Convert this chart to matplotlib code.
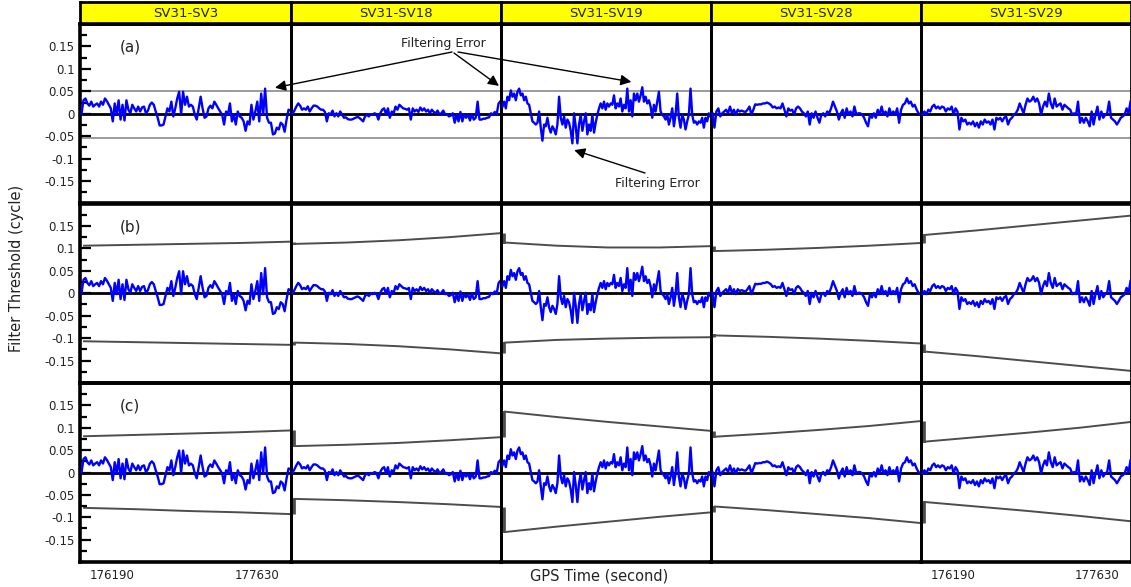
import numpy as np
import matplotlib
matplotlib.use("Agg")
import matplotlib.pyplot as plt

# ---------------- data ----------------
pairs = ["SV31-SV3", "SV31-SV18", "SV31-SV19", "SV31-SV28", "SV31-SV29"]
panel_labels = ["(a)", "(b)", "(c)"]
t_range = (175870, 177965)
xtick_vals = [176190, 177630]
ytick_major = [-0.15, -0.1, -0.05, 0, 0.05, 0.1, 0.15]
ytick_labels = ["-0.15", "-0.1", "-0.05", "0", "0.05", "0.1", "0.15"]
ytick_minor = [-0.175, -0.125, -0.075, -0.025, 0.025, 0.075, 0.125, 0.175]

err_sv3 = [0.0, 0.03, 0.034, 0.023, 0.018, 0.027, 0.016, 0.02, 0.023, 0.016, 0.027, 0.02,
           0.034, 0.028, 0.02, 0.012, -0.017, 0.023, -0.002, 0.03, -0.013, 0.02, -0.015,
           0.03, 0.009, 0.001, 0.02, 0.012, 0.005, 0.016, 0.005, 0.014, 0.016, 0.001, 0.007,
           0.02, 0.025, 0.02, 0.005, -0.009, -0.026, -0.026, -0.024, -0.006, 0.012, 0.005,
           0.027, -0.006, 0.012, 0.034, 0.049, -0.002, 0.049, 0.02, 0.038, 0.016, 0.02,
           0.016, -0.002, -0.013, 0.012, 0.038, 0.012, -0.009, -0.006, 0.012, 0.018, 0.012,
           0.027, 0.02, 0.012, 0.005, -0.002, -0.024, 0.005, -0.002, 0.023, -0.017, -0.002,
           -0.024, 0.005, -0.006, -0.009, -0.017, -0.038, -0.017, -0.024, 0.02, -0.013,
           0.005, 0.027, -0.017, 0.045, -0.002, 0.056, -0.009, -0.02, -0.02, -0.046, -0.044,
           -0.031, -0.035, -0.02, -0.024, -0.04, -0.013, 0.009, 0.007]
err_sv18 = [0.0, 0.007, 0.016, 0.023, 0.018, 0.009, 0.012, 0.009, 0.016, 0.005, 0.012,
            0.018, 0.018, 0.016, 0.012, 0.009, 0.009, 0.004, -0.017, 0.001, -0.002, 0.007,
            -0.006, 0.001, -0.006, 0.005, -0.002, -0.009, -0.008, -0.012, -0.013, -0.013,
            -0.011, -0.009, -0.007, -0.009, -0.013, -0.017, -0.006, -0.002, -0.006, -0.001,
            -0.002, 0.001, -0.001, -0.013, 0.001, 0.009, 0.012, -0.001, 0.012, -0.009, 0.005,
            0.001, 0.016, 0.009, 0.02, 0.016, 0.012, 0.011, 0.009, 0.012, -0.013, 0.012,
            0.005, 0.009, 0.004, 0.014, 0.007, 0.012, 0.005, 0.009, 0.001, 0.009, 0.004,
            0.001, 0.007, -0.001, 0.001, 0.007, -0.002, -0.001, -0.006, -0.004, 0.001, -0.02,
            -0.002, -0.017, 0.004, -0.017, -0.002, -0.009, -0.002, -0.015, -0.001, -0.013,
            -0.009, 0.027, -0.013, -0.013, -0.011, -0.011, -0.009, -0.008, 0.001, -0.002,
            0.004, -0.001, 0.023, 0.028]
err_sv19 = [0.016, 0.027, 0.012, 0.038, 0.03, 0.052, 0.038, 0.045, 0.03, 0.049, 0.056,
            0.041, 0.045, 0.03, 0.038, 0.023, 0.02, 0.001, -0.017, -0.02, -0.024, -0.02,
            0.005, -0.031, -0.06, -0.024, -0.028, -0.009, -0.031, -0.042, -0.028, -0.035,
            -0.046, -0.024, 0.038, -0.009, -0.024, -0.006, -0.031, -0.013, -0.02, -0.038,
            -0.066, 0.001, -0.028, -0.066, -0.024, -0.002, -0.038, -0.017, 0.001, -0.046,
            -0.024, -0.038, -0.002, -0.042, -0.02, -0.002, 0.012, 0.023, 0.012, 0.027, 0.009,
            0.023, 0.016, 0.023, 0.02, 0.041, 0.012, 0.023, 0.016, 0.034, 0.005, 0.02, 0.012,
            0.056, 0.005, 0.03, -0.006, 0.045, 0.03, 0.045, 0.027, 0.041, 0.059, 0.027, 0.038,
            0.023, 0.03, 0.016, -0.009, 0.02, 0.005, 0.027, 0.049, 0.005, -0.002, -0.006,
            -0.013, -0.002, -0.024, -0.009, 0.012, -0.028, -0.002, 0.045, -0.009, -0.031,
            -0.002, -0.013, -0.035, -0.017, -0.002, 0.056, -0.002, -0.02, -0.017, -0.024,
            -0.017, -0.02, -0.009, -0.031, -0.009, -0.017, 0.001, -0.006]
err_sv28 = [0.001, -0.031, 0.005, 0.012, -0.006, 0.001, 0.005, 0.009, 0.001, 0.016, 0.001,
            0.009, -0.002, 0.009, 0.005, 0.007, 0.005, 0.004, 0.009, 0.016, -0.002, 0.009,
            0.021, 0.02, 0.021, 0.021, 0.023, 0.023, 0.025, 0.023, 0.02, 0.014, 0.016, 0.012,
            0.014, 0.012, 0.023, 0.009, -0.006, 0.012, 0.007, 0.009, -0.002, 0.012, 0.016,
            0.012, 0.005, 0.001, -0.006, 0.005, -0.024, 0.001, -0.009, 0.005, -0.009, -0.02,
            -0.002, 0.001, -0.006, 0.005, 0.001, 0.012, 0.027, 0.016, 0.005, -0.013, 0.001,
            0.009, -0.009, 0.012, -0.002, 0.005, -0.006, 0.016, -0.002, 0.001, 0.001, -0.002,
            -0.009, -0.02, -0.028, -0.002, -0.009, 0.001, -0.009, 0.009, -0.002, 0.016,
            -0.002, 0.005, -0.006, 0.012, -0.002, 0.005, -0.002, 0.012, -0.02, 0.009, 0.02,
            0.023, 0.034, 0.023, 0.027, 0.016, 0.02, 0.009, 0.001, -0.002]
err_sv29 = [-0.002, 0.005, -0.002, 0.009, 0.005, 0.016, 0.02, 0.012, 0.016, 0.011, 0.016,
            0.014, 0.005, 0.012, 0.009, 0.016, -0.002, 0.012, 0.005, -0.035, -0.009, -0.017,
            -0.013, -0.024, -0.02, -0.024, -0.017, -0.028, -0.02, -0.031, -0.017, -0.024,
            -0.013, -0.02, -0.017, -0.024, -0.013, -0.035, -0.009, -0.013, -0.009, -0.017,
            -0.009, -0.006, -0.024, -0.013, -0.009, -0.002, 0.001, 0.009, 0.023, 0.012, 0.001,
            0.02, 0.034, 0.027, 0.03, 0.038, 0.027, 0.034, 0.023, -0.002, 0.016, 0.027, 0.016,
            0.045, 0.023, 0.012, 0.034, 0.016, 0.02, 0.023, 0.009, 0.02, 0.016, 0.012, 0.009,
            -0.002, 0.001, -0.002, 0.027, -0.02, -0.009, -0.02, -0.009, -0.017, -0.028, 0.005,
            -0.024, -0.002, 0.016, -0.013, 0.005, -0.009, -0.002, 0.001, 0.027, -0.009, -0.013,
            -0.017, -0.024, -0.017, -0.009, -0.006, -0.002, 0.012, 0.001, 0.027]
errors = [err_sv3, err_sv18, err_sv19, err_sv28, err_sv29]

# row (a): fixed thresholds
a_upper = 0.05
a_lower = -0.055
# rows (b), (c): threshold curves per pair (values at 0, 1/4, 1/2, 3/4, 1 of the span)
b_upper = [[0.106, 0.108, 0.110, 0.112, 0.115],
           [0.110, 0.113, 0.118, 0.125, 0.134],
           [0.113, 0.106, 0.102, 0.102, 0.105],
           [0.094, 0.097, 0.101, 0.106, 0.112],
           [0.130, 0.140, 0.151, 0.162, 0.173]]
b_lower = [[-0.107, -0.109, -0.111, -0.113, -0.115],
           [-0.110, -0.113, -0.118, -0.125, -0.134],
           [-0.110, -0.104, -0.101, -0.099, -0.098],
           [-0.094, -0.097, -0.101, -0.106, -0.112],
           [-0.130, -0.140, -0.151, -0.162, -0.173]]
c_upper = [[0.081, 0.084, 0.087, 0.090, 0.094],
           [0.059, 0.062, 0.066, 0.072, 0.079],
           [0.136, 0.124, 0.113, 0.103, 0.093],
           [0.080, 0.087, 0.095, 0.104, 0.115],
           [0.069, 0.079, 0.089, 0.100, 0.113]]
c_lower = [[-0.079, -0.082, -0.086, -0.089, -0.093],
           [-0.059, -0.062, -0.066, -0.071, -0.077],
           [-0.133, -0.121, -0.110, -0.099, -0.089],
           [-0.076, -0.084, -0.093, -0.102, -0.113],
           [-0.066, -0.076, -0.086, -0.097, -0.109]]

# ---------------- layout ----------------
W, H = 1131, 587
fig = plt.figure(figsize=(W / 100, H / 100), dpi=100)
plt.rcParams["font.family"] = ["DejaVu Sans"]

col_edges = [80, 291, 501, 711, 921, 1131]
row_edges = [24, 203.5, 383, 562]
head_top = 2


def fx(px):
    return px / W


def fy(py):
    return 1 - py / H


BLUE = "#0000ff"
THR = "#4d4d4d"
TXT = "#222222"

# headers
for c, name in enumerate(pairs):
    hx = fig.add_axes([fx(col_edges[c]), fy(row_edges[0]),
                       (col_edges[c + 1] - col_edges[c]) / W,
                       (row_edges[0] - head_top) / H])
    hx.set_facecolor("#ffff00")
    hx.set_xticks([])
    hx.set_yticks([])
    for s in hx.spines.values():
        s.set_linewidth(2.0)
        s.set_color("black")
    hx.text(0.5, 0.47, name, ha="center", va="center", fontsize=9.5, color=TXT,
            transform=hx.transAxes)

axes = [[None] * 5 for _ in range(3)]
for r in range(3):
    for c in range(5):
        ax = fig.add_axes([fx(col_edges[c]), fy(row_edges[r + 1]),
                           (col_edges[c + 1] - col_edges[c]) / W,
                           (row_edges[r + 1] - row_edges[r]) / H])
        ax.set_facecolor("none")
        axes[r][c] = ax
        ax.set_xlim(*t_range)
        ax.set_ylim(-0.2, 0.2)

        y = np.array(errors[c])
        t = np.linspace(t_range[0] + 15, t_range[1] - 5, len(y))

        if r == 0:
            ax.axhline(a_upper, color="#808080", lw=1.1, zorder=1)
            ax.axhline(a_lower, color="#808080", lw=1.1, zorder=1)
        else:
            up = b_upper if r == 1 else c_upper
            lo = b_lower if r == 1 else c_lower
            tt = np.linspace(t_range[0] + 40, t_range[1], len(up[c]))
            ax.plot(tt, up[c], color=THR, lw=1.4, zorder=1)
            ax.plot(tt, lo[c], color=THR, lw=1.4, zorder=1)
            if c > 0:
                for prev, cur in ((up[c - 1][-1], up[c][0]), (lo[c - 1][-1], lo[c][0])):
                    ax.plot([t_range[0] + 22, t_range[0] + 22], [prev, cur],
                            color=THR, lw=3.4, zorder=1, solid_capstyle="butt")
                    ax.plot([t_range[0] + 20, t_range[0] + 40], [cur, cur],
                            color=THR, lw=1.4, zorder=1)

        ax.axhline(0, color="black", lw=2.0, zorder=2)
        ax.plot(t, y, color=BLUE, lw=1.7, zorder=3)

        for s in ax.spines.values():
            s.set_linewidth(2.0)
            s.set_color("black")
        ax.spines["top"].set_linewidth(2.6)
        ax.spines["bottom"].set_linewidth(2.6)
        if c == 0:
            ax.spines["left"].set_linewidth(2.6)

        if c == 0:
            ax.set_yticks(ytick_major)
            ax.set_yticklabels(ytick_labels)
            ax.set_yticks(ytick_minor, minor=True)
            ax.tick_params(axis="y", which="major", direction="in", length=8, width=1.6,
                           pad=4, labelsize=8.5, labelcolor=TXT)
            ax.tick_params(axis="y", which="minor", direction="in", length=5, width=1.6)
            ax.text(0.237, 0.87, panel_labels[r], transform=ax.transAxes, ha="center",
                    va="center", fontsize=11, color=TXT)
        else:
            ax.set_yticks([])
        if r == 2 and c in (0, 4):
            ax.set_xticks(xtick_vals)
            ax.set_xticklabels([str(v) for v in xtick_vals])
            ax.tick_params(axis="x", length=0, pad=5, labelsize=8.5, labelcolor=TXT)
        else:
            ax.set_xticks([])

fig.text(fx(17), fy(268), "Filter Threshold (cycle)", rotation=90, ha="center",
         va="center", fontsize=10.5, color=TXT)
fig.text(fx(599), fy(576), "GPS Time (second)", ha="center", va="center",
         fontsize=10.5, color=TXT)

# annotations
fig.text(fx(443), fy(44), "Filtering Error", ha="center", va="center", fontsize=9,
         color=TXT)
fig.text(fx(657), fy(183), "Filtering Error", ha="center", va="center", fontsize=9,
         color=TXT)

arrow_kw = dict(arrowstyle="-|>", color="black", lw=1.0, mutation_scale=16,
                shrinkA=0, shrinkB=0)
host = axes[2][4]
targets = [
    (axes[0][0], (177806, 0.058), (452, 52)),
    (axes[0][1], (177945, 0.062), (454, 53)),
    (axes[0][2], (177171, 0.071), (458, 52)),
    (axes[0][2], (176600, -0.081), (645, 173)),
]
for tax, xy, tail in targets:
    host.annotate("", xy=xy, xycoords=tax.transData,
                  xytext=(fx(tail[0]), fy(tail[1])), textcoords="figure fraction",
                  arrowprops=arrow_kw, annotation_clip=False)

fig.savefig("out.png", dpi=100)
